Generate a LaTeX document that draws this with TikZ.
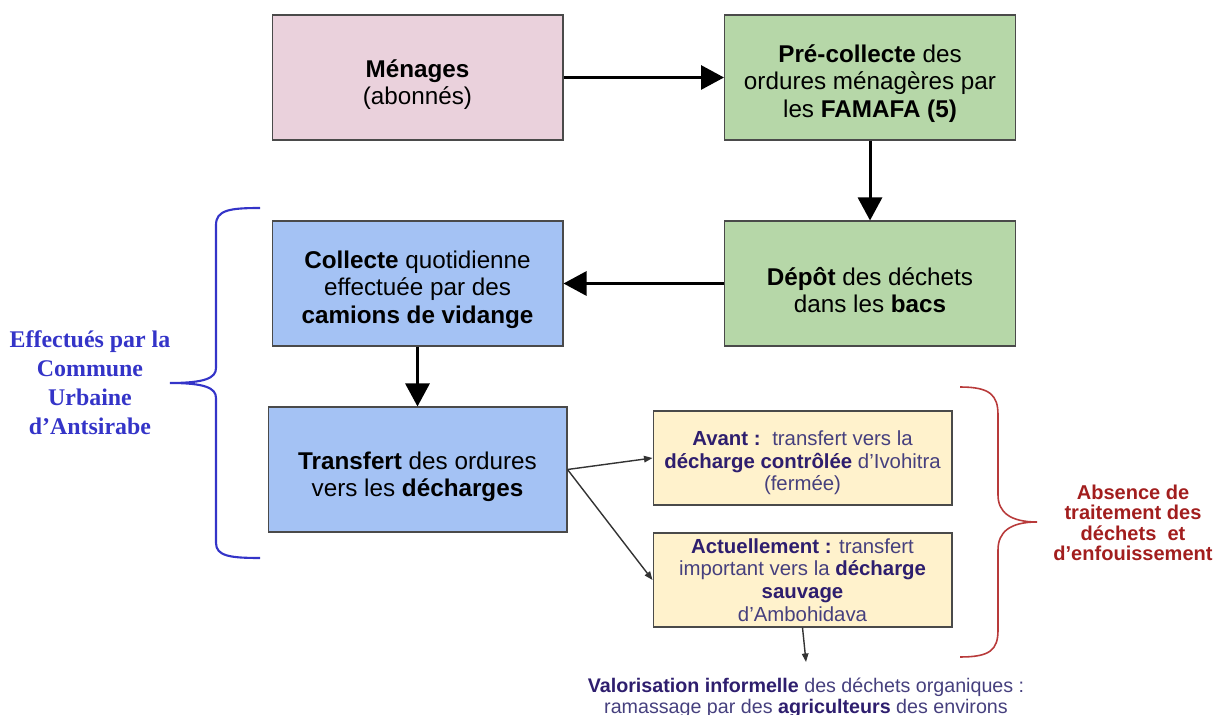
\documentclass[tikz,border=0pt]{standalone}
\usepackage{fontspec}
\setmainfont{Liberation Sans}
\newfontfamily\communefont{Liberation Serif}
\usepackage{tikz}
\usetikzlibrary{arrows.meta}

\definecolor{menagepink}{HTML}{EAD1DC}
\definecolor{famagreen}{HTML}{B6D7A8}
\definecolor{camionblue}{HTML}{A4C2F4}
\definecolor{dechargeyellow}{HTML}{FFF2CC}
\definecolor{boxborder}{HTML}{4A4A4A}
\definecolor{purplebold}{HTML}{2E1E6E}
\definecolor{purpletext}{HTML}{46407E}
\definecolor{communeblue}{HTML}{3434C8}
\definecolor{absencered}{HTML}{A21E1E}
\definecolor{bracered}{HTML}{B83A3A}

\newcommand{\pb}[1]{\textbf{\color{purplebold}#1}}
\newcommand{\topstrut}[1]{\rule{0pt}{#1}}

\tikzset{
  bigbox/.style={draw=boxborder, line width=0.6pt, align=center, inner sep=2pt,
    minimum width=5.82cm, minimum height=2.5cm, font=\fontsize{13.8}{15.6}\selectfont},
  smallbox/.style={draw=boxborder, line width=0.6pt, fill=dechargeyellow, align=center,
    inner sep=2pt, minimum width=5.98cm, minimum height=1.88cm, text=purpletext,
    font=\fontsize{11.6}{12.9}\selectfont},
  bigarrow/.style={line width=1.7pt, -{Triangle[length=0.46cm,width=0.48cm]}},
  thinarrow/.style={draw=black!80, line width=0.8pt, -{Triangle[length=0.17cm,width=0.13cm]}}
}

\begin{document}
\begin{tikzpicture}[x=0.02cm,y=-0.02cm]
\useasboundingbox (0,0) rectangle (1213,715);

\node [bigbox, fill=menagepink] (menages) at (417.5,77.5) {\topstrut{18pt}\textbf{Ménages}\\(abonnés)};
\node [bigbox, fill=famagreen] (precollecte) at (870,77.5) {\topstrut{17pt}\textbf{Pré-collecte} des\\ordures ménagères par\\les \textbf{FAMAFA (5)}};
\node [bigbox, fill=famagreen] (depot) at (870,283.5) {\topstrut{18pt}\textbf{Dépôt} des déchets\\dans les \textbf{bacs}};
\node [bigbox, fill=camionblue] (collecte) at (417.5,283.5) {\topstrut{17pt}\textbf{Collecte} quotidienne\\effectuée par des\\\textbf{camions de vidange}};
\node [bigbox, fill=camionblue, minimum width=5.98cm] (transfert) at (417.5,469.5) {\topstrut{18pt}\textbf{Transfert} des ordures\\vers les \textbf{décharges}};

\node [smallbox] (avant) at (802.5,458) {\topstrut{14pt}\pb{Avant :}\hspace{0.2em} transfert vers la\\\pb{décharge contrôlée} d'Ivohitra\\(fermée)};
\node [smallbox] (actuel) at (802.5,580) {\pb{Actuellement :} transfert\\important vers la \pb{décharge}\\\pb{sauvage}\\d'Ambohidava};

\node [align=center, text=purpletext, font=\fontsize{11.2}{11.6}\selectfont] (valor) at (806,698)
  {\pb{Valorisation informelle} des déchets organiques :\\ramassage par des \pb{agriculteurs} des environs};
\coordinate (valtop) at (806,662);

\node [align=center, text=communeblue, font=\communefont\bfseries\fontsize{13.6}{16.5}\selectfont] (commune) at (90,383)
  {Effectués par la\\Commune\\Urbaine\\d’Antsirabe};
\node [align=center, text=absencered, font=\bfseries\fontsize{11.4}{11.6}\selectfont] (absence) at (1133,523)
  {Absence de\\traitement des\\déchets~ et\\d’enfouissement};

\draw [bigarrow] (menages) -- (precollecte);
\draw [bigarrow] (precollecte) -- (depot);
\draw [bigarrow] (depot) -- (collecte);
\draw [bigarrow] (collecte) -- (transfert);
\draw [thinarrow] (transfert.east) -- (avant.west);
\draw [thinarrow] (transfert.east) -- (actuel.west);
\draw [thinarrow] (actuel.south) -- (valtop);

\draw [communeblue, line width=1.2pt] (260,208) .. controls (230,208) and (216,210) .. (216,225) -- (216,368)
  .. controls (216,378) and (205,383) .. (170,383) .. controls (205,383) and (216,388) .. (216,398)
  -- (216,543) .. controls (216,556) and (230,558) .. (260,558);
\draw [bracered, line width=0.9pt] (960,387) .. controls (990,387) and (998,395) .. (998,415) -- (998,495)
  .. controls (998,512) and (1010,522) .. (1037,522) .. controls (1010,522) and (998,532) .. (998,550)
  -- (998,630) .. controls (998,650) and (990,657) .. (960,657);
\end{tikzpicture}
\end{document}
